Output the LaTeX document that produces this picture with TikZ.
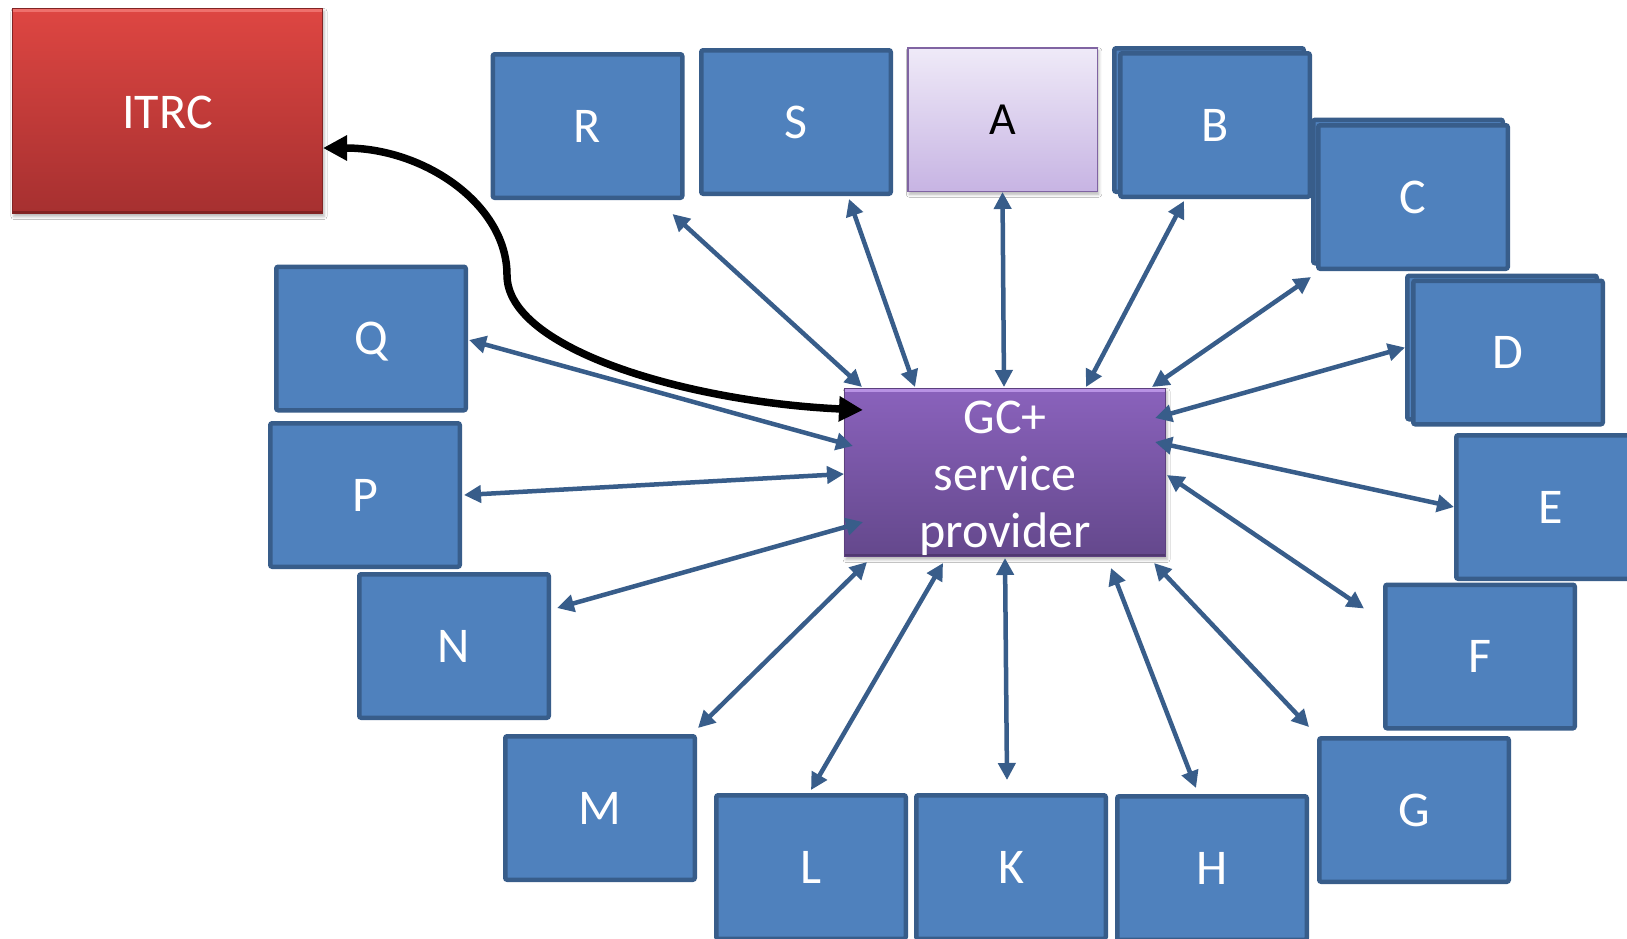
\documentclass[tikz,border=0pt]{standalone}
\usepackage{fontspec}
\setmainfont{Carlito}
\usetikzlibrary{arrows.meta,calc,shadows.blur}

\definecolor{boxfill}{RGB}{79,129,189}
\definecolor{boxline}{RGB}{56,93,138}
\definecolor{linkblue}{RGB}{56,93,138}
\definecolor{redtop}{RGB}{222,70,66}
\definecolor{redbottom}{RGB}{166,48,48}
\definecolor{redline}{RGB}{130,36,36}
\definecolor{redlight}{RGB}{238,112,108}
\definecolor{reddark}{RGB}{128,34,34}
\definecolor{purptop}{RGB}{138,98,188}
\definecolor{purpbottom}{RGB}{100,72,140}
\definecolor{purpline}{RGB}{92,64,126}
\definecolor{purplight}{RGB}{184,146,228}
\definecolor{purpdark}{RGB}{80,56,112}
\definecolor{lavtop}{RGB}{239,234,248}
\definecolor{lavbottom}{RGB}{199,180,227}
\definecolor{lavline}{RGB}{128,100,162}

\newcommand{\unitfont}{\fontsize{50}{57}\selectfont}
\newcommand{\unitfontA}{\fontsize{46}{52}\selectfont}

\tikzset{
  unit/.style={draw=boxline, fill=boxfill, line width=4.5pt, rounded corners=2pt,
    minimum width=189.5pt, minimum height=143.5pt, inner sep=0pt,
    text=white, font=\unitfont, text height=32pt, text depth=0pt},
  softshadow/.style={blur shadow={shadow xshift=1.5pt, shadow yshift=-3pt,
    shadow blur radius=3pt, shadow opacity=30}},
  bevel/.style 2 args={path picture={
    \draw[line width=3pt, #1]
      ([yshift=-1.5pt]path picture bounding box.north west) --
      ([yshift=-1.5pt]path picture bounding box.north east);
    \draw[line width=3pt, #2]
      ([yshift=1.5pt]path picture bounding box.south west) --
      ([yshift=1.5pt]path picture bounding box.south east);}},
  itrcbox/.style={draw=redline, line width=1pt, top color=redtop, bottom color=redbottom,
    minimum width=310pt, minimum height=205pt, inner sep=0pt, softshadow,
    bevel={redlight}{reddark},
    text=white, font=\unitfont, text height=35pt, text depth=0pt},
  gcbox/.style={draw=purpline, line width=1pt, top color=purptop, bottom color=purpbottom,
    minimum width=321pt, minimum height=168pt, inner sep=0pt, softshadow,
    bevel={purplight}{purpdark}},
  gctext/.style={text=white, font=\unitfont, align=center, inner sep=0pt},
  abox/.style={draw=lavline, line width=1.5pt, top color=lavtop, bottom color=lavbottom,
    minimum width=189.5pt, minimum height=143.5pt, inner sep=0pt, softshadow,
    text=black, font=\unitfontA, text height=29pt, text depth=0pt},
  link/.style={draw=linkblue, line width=4.5pt,
    {Triangle[length=17pt,width=17pt]}-{Triangle[length=17pt,width=17pt]}},
  boldlink/.style={draw=black, line width=7.5pt,
    {Triangle[length=24pt,width=24pt]}-{Triangle[length=24pt,width=24pt]}},
}

\begin{document}
\begin{tikzpicture}[x=1pt,y=-1pt]
  \useasboundingbox (0,0) rectangle (1627,938);
  \fill[white] (0,0) rectangle (1627,938);

  % central provider and the regulator
  \node[itrcbox] (ITRC) at (167.5,111) {ITRC};
  \node[gcbox] (gc) at (1005,472.5) {};
  \node[gctext] (gclabel) at ($(gc.center)+(0,6)$) {GC+\\service\\provider};

  % top row
  \node[unit] (R) at (587.5,126) {R};
  \node[unit] (S) at (796,122) {S};
  \node[abox] (A) at (1002.5,119.5) {A};
  \node[unit] (Bback) at (1209,120) {};
  \node[unit] (B) at (1215,125) {B};
  \node[unit] (Cback) at (1408,191.5) {};
  \node[unit] (C) at (1413,197) {C};
  \node[unit] (Dback) at (1502,347.5) {};
  \node[unit] (D) at (1508,352.5) {D};

  % right side
  \node[unit] (E) at (1551,507) {E};
  \node[unit] (F) at (1480,656.5) {F};
  \node[unit] (G) at (1414,810) {G};

  % bottom row
  \node[unit] (H) at (1212,868) {H};
  \node[unit] (K) at (1011,867) {K};
  \node[unit] (L) at (811,867) {L};
  \node[unit] (M) at (600,808) {M};

  % left side
  \node[unit] (N) at (454,646) {N};
  \node[unit] (P) at (365,495) {P};
  \node[unit] (Q) at (371,338.5) {Q};

  % two-way links to the provider
  \draw[link] ($(gc.north west)+(18,-1)$) -- ($(R.south east)+(-12,14)$);
  \draw[link] ($(gc.north west)+(71,-1)$) -- ($(S.south east)+(-44,3)$);
  \draw[link] ($(gc.north)+(-1,-1)$) -- (A.south);
  \draw[link] ($(gc.north east)+(-80,-1)$) -- ($(B.south west)+(66,2)$);
  \draw[link] ($(gc.north east)+(-14,-1)$) -- ($(C.south west)+(-5,6)$);
  \draw[link] ($(gc.north east)+(-11,30)$) -- (Dback.west);
  \draw[link] ($(gc.north east)+(-11,54)$) -- (E.west);
  \draw[link] ($(gc.east)+(1,2.5)$) -- ($(F.north west)+(-19,26)$);
  \draw[link] ($(gc.south east)+(-12,6)$) -- ($(G.north west)+(-8,-9)$);
  \draw[link] ($(gc.south east)+(-55,11)$) -- ($(H.north west)+(81,-6)$);
  \draw[link] ($(gc.south)+(0,1)$) -- ($(K.north)+(-4,-13)$);
  \draw[link] ($(gc.south west)+(99,6)$) -- ($(L.north)+(0,-3)$);
  \draw[link] ($(gc.south west)+(23,5)$) -- ($(M.north east)+(1,-6)$);
  \draw[link] ($(gc.south west)+(19,-35)$) -- ($(N.north east)+(6,36)$);
  \draw[link] ($(gc.west)+(0,1.5)$) -- ($(P.east)+(2,0)$);
  \draw[link] ($(gc.west)+(9,-26.5)$) -- ($(Q.east)+(1,1.5)$);

  % reporting link between the provider and ITRC
  \coordinate (bend) at (507,275);
  \draw[boldlink] ($(ITRC.east)+(0,37)$) .. controls (425,148) and (507,205) .. (bend)
    .. controls (507,350) and (690,402) .. ($(gc.north west)+(19,22)$);
\end{tikzpicture}
\end{document}
